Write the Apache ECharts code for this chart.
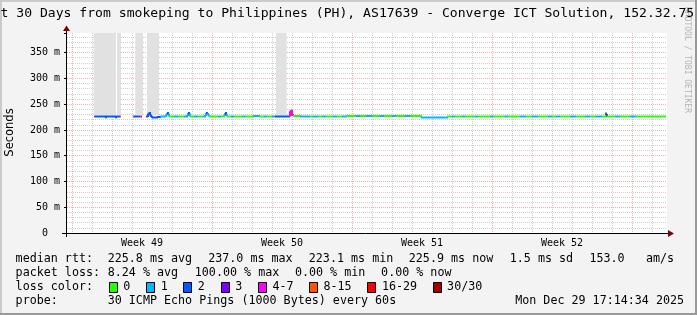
<!DOCTYPE html>
<html><head><meta charset="utf-8">
<script src="https://cdn.jsdelivr.net/npm/echarts@6/dist/echarts.min.js"></script>
<style>html,body{margin:0;padding:0;background:#f3f3f3}#c{width:697px;height:315px}</style>
</head><body><div id="c"></div>
<script>
// ---- data ----
const titleText = "t 30 Days from smokeping to Philippines (PH), AS17639 - Converge ICT Solution, 152.32.75";
const yAxisName = "Seconds";
const weekLabels = ["Week 49", "Week 50", "Week 51", "Week 52"];
const firstWeekBoundaryHour = 6;   // hours after window start
const windowHours = 720;           // 30 days
const yMax = 388;                  // ms

// median RTT steps: start hour, rtt (ms), lost pings of 30 (null = no data)
const stepHour = [32.4,33.6,45.6,46.8,57.6,58.8,63.6,64.8,79.2,80.4,87.6,88.8,90.0,94.8,96.0,97.2,98.4,99.6,100.8,102.0,108.0,111.6,117.6,118.8,120.0,121.2,122.4,128.4,133.2,140.4,144.0,145.2,146.4,147.6,152.4,157.2,163.2,165.6,166.8,168.0,169.2,170.4,181.2,184.8,188.4,189.6,190.8,192.0,196.8,200.4,210.0,213.6,223.2,230.4,236.4,240.0,246.0,249.6,250.8,266.4,267.6,268.8,270.0,271.2,279.6,291.6,295.2,301.2,306.0,310.8,319.2,324.0,330.0,334.8,346.8,351.6,358.8,366.0,375.6,380.4,390.0,394.8,405.6,411.6,424.8,456.0,462.0,465.6,474.0,477.6,489.6,493.2,507.6,511.2,525.6,529.2,543.6,550.8,558.0,565.2,577.2,582.0,586.8,591.6,603.6,610.8,621.6,627.6,633.6,642.0,646.8,648.0,657.6,663.6,675.6,682.8,718.8];
const stepRtt  = [226,226,224.5,226,224.5,226,226,null,226,226,226,226,null,226,227,232,233,228,225,224,225,226,227,230,233,230,226,226,226,226,229,233,230,226,226,226,226,229,233,231,228,226,226,226,229,233,229,226,226,226,226,226,227,226,226,226,226,226,226,228,236,237,229,227,226,226,226,226,226,226,226,226,226,227,227,227,227,227,227,227,227,227,227,227,224,226,226,226,226,226,226,226,226,226,226,226,226,226,226,226,226,226,226,226,226,226,226,226,226,226,229,226,226,226,226,226,null];
const stepLoss = [5,2,2,2,2,2,9,null,5,2,9,20,null,20,2,2,2,2,2,2,2,1,1,1,2,1,0,1,0,1,1,2,1,0,1,0,1,1,2,1,1,0,1,0,1,2,1,0,1,0,1,0,1,0,1,0,1,3,2,5,5,5,5,0,1,0,1,0,1,0,1,0,1,0,1,0,1,0,1,0,1,0,1,0,1,0,1,0,1,0,1,0,1,0,1,0,1,0,1,0,1,0,1,0,1,0,1,0,1,0,2,0,1,0,1,0,null];

// smoke (ping spread) regions: start hour, end hour, low ms, high ms
const smokeStart = [32.0, 60.0, 82.0, 96.0, 250.8];
const smokeEnd   = [58.8, 64.8, 91.2, 110.4, 263.6];
const smokeLow   = [228, 228, 228, 228, 228];
const smokeHigh  = [420, 420, 420, 420, 420];
// dark smoke spikes: hour, low, high
const spikeHour = [268.8, 646.8];
const spikeLow  = [227, 227];
const spikeHigh = [238, 234];

const lossLabels = ["0","1","2","3","4-7","8-15","16-29","30/30"];
const lossColors = ["#26ff00","#00b8ff","#0059ff","#7e00ff","#ff00ff","#ff5500","#ff0000","#a10000"];

const rttStats  = ["225.8 ms avg","237.0 ms max","223.1 ms min","225.9 ms now","1.5 ms sd","153.0","am/s"];
const lossStats = ["8.24 % avg","100.00 % max","0.00 % min","0.00 % now"];
const probeText = "30 ICMP Echo Pings (1000 Bytes) every 60s";
const dateText  = "Mon Dec 29 17:14:34 2025";
const sideText  = "RRDTOOL / TOBI OETIKER";

// ---- helpers ----
function lossClass(n){ if(n<=3) return n; if(n<=7) return 4; if(n<=15) return 5; if(n<=29) return 6; return 7; }
const MONO = '"DejaVu Sans Mono", monospace';

const medianData = [];
for (let i = 0; i < stepHour.length - 1; i++) {
  if (stepRtt[i] == null) continue;
  const vn = stepRtt[i+1] == null ? stepRtt[i] : stepRtt[i+1];
  medianData.push([stepHour[i], stepHour[i+1], stepRtt[i], vn, lossClass(stepLoss[i])]);
}
const smokeData = smokeStart.map((s,i)=>[s, smokeEnd[i], smokeLow[i], smokeHigh[i]]);
const spikeData = spikeHour.map((h,i)=>[h, spikeLow[i], spikeHigh[i]]);

const weekCenters = weekLabels.map((_,i)=>firstWeekBoundaryHour + 84 + 168*i);
const RED = 'rgba(235,110,110,0.55)', GRAY = '#cfcfcf', NONE = 'rgba(0,0,0,0)';
const xColors = [];
for (let k = 0; k < 28; k++) {
  const h = k*6 - firstWeekBoundaryHour;
  if (((h % 168) + 168) % 168 === 0) xColors.push(RED);
  else if (((h % 24) + 24) % 24 === 0) xColors.push(GRAY);
  else xColors.push(NONE);
}
const yColors = [RED, GRAY, GRAY, GRAY, GRAY];

function clipRect(r, cs){ return echarts.graphic.clipRectByRect(r, {x:cs.x,y:cs.y,width:cs.width,height:cs.height}); }

const chart = echarts.init(document.getElementById('c'), null, {renderer:'canvas'});

const graphics = [];
graphics.push({type:'rect', shape:{x:0,y:0,width:697,height:2}, style:{fill:'#cbcbcb'}, silent:true});
graphics.push({type:'rect', shape:{x:0,y:0,width:2,height:315}, style:{fill:'#cbcbcb'}, silent:true});
graphics.push({type:'rect', shape:{x:0,y:313,width:697,height:2}, style:{fill:'#999999'}, silent:true, z:30});
graphics.push({type:'rect', shape:{x:695,y:0,width:2,height:315}, style:{fill:'#999999'}, silent:true, z:30});
graphics.push({type:'text', x:0.5, y:13.5, style:{text:titleText, font:'13.1px '+MONO, fill:'#000', textAlign:'left', textVerticalAlign:'middle'}, z:10});
graphics.push({type:'text', x:687.5, y:60, rotation:-Math.PI/2, style:{text:sideText, font:'8px '+MONO, fill:'#b4b4b4', textAlign:'center', textVerticalAlign:'middle'}, z:5});
graphics.push({type:'text', x:10.5, y:132.5, rotation:Math.PI/2, style:{text:yAxisName, font:'11.5px "DejaVu Sans", sans-serif', fill:'#000', textAlign:'center', textVerticalAlign:'middle'}, z:10});
graphics.push({type:'line', shape:{x1:66.5,y1:237,x2:66.5,y2:30}, style:{stroke:'#000',lineWidth:1}, z:20});
graphics.push({type:'line', shape:{x1:62,y1:233.5,x2:669,y2:233.5}, style:{stroke:'#000',lineWidth:1}, z:20});
graphics.push({type:'polygon', shape:{points:[[66.5,25.5],[63,31],[70,31]]}, style:{fill:'#7f0000'}, z:21});
graphics.push({type:'polygon', shape:{points:[[674,233.5],[668,230],[668,237]]}, style:{fill:'#7f0000'}, z:21});

const legFont = '11.7px '+MONO;
function legText(x, y, t){ graphics.push({type:'text', x:x, y:y, style:{text:t, font:legFont, fill:'#000', textAlign:'left', textVerticalAlign:'middle'}, z:10}); }
const r1 = 259, r2 = 273, r3 = 287, r4 = 301;
legText(15.6, r1, 'median rtt:');
[107.7, 208.2, 308.8, 408.8, 509.8, 589.4, 646].forEach((x,i)=>legText(x, r1, rttStats[i]));
legText(15.6, r2, 'packet loss:');
[107.7, 194.8, 294.9, 381.1].forEach((x,i)=>legText(x, r2, lossStats[i]));
legText(15.6, r3, 'loss color:');
[108.6, 146.1, 183.2, 220.7, 257.8, 308.8, 367.3, 432.5].forEach((x,i)=>{
  graphics.push({type:'rect', shape:{x:Math.round(x)+0.5, y:282.5, width:8, height:10}, style:{fill:lossColors[i], stroke:'#000', lineWidth:1}, z:10});
  legText(x+14.6, r3, lossLabels[i]);
});
legText(15.6, r4, 'probe:');
legText(107.7, r4, probeText);
legText(515.2, r4, dateText);

chart.setOption({
  animation:false,
  backgroundColor:'#f3f3f3',
  grid:{left:67, top:33, width:600, height:200, show:true, backgroundColor:'#ffffff', borderWidth:0},
  xAxis:{type:'value', min:0, max:windowHours, interval:6,
    axisLine:{show:false}, axisTick:{show:false},
    axisLabel:{margin:5, fontFamily:MONO, fontSize:10, color:'#000',
      formatter:(v)=>{ const i = weekCenters.indexOf(Math.round(v)); return i>=0 ? weekLabels[i] : ''; }},
    splitLine:{show:true, lineStyle:{color:xColors, width:1, type:[1,1]}}},
  yAxis:[
    {type:'value', min:0, max:yMax, interval:10,
      axisLine:{show:false}, axisTick:{show:false},
      axisLabel:{margin:7, fontFamily:MONO, fontSize:10, color:'#000',
        formatter:(v)=> (v % 50 === 0) ? (v === 0 ? '0  ' : v + ' m') : ''},
      splitLine:{show:true, showMaxLine:false, lineStyle:{color:yColors, width:1, type:[1,1]}}},
    {type:'value', min:0, max:yMax, interval:50, position:'left', offset:0,
      axisLine:{show:false}, axisLabel:{show:false}, splitLine:{show:false},
      axisTick:{show:true, length:3, lineStyle:{color:'#000', width:1}}}
  ],
  graphic:graphics,
  series:[
    {type:'custom', name:'smoke', data:smokeData, z:2, silent:true,
      encode:{x:[0,1], y:[2,3]},
      renderItem:(params, api)=>{
        const p0 = api.coord([api.value(0), api.value(3)]);
        const p1 = api.coord([api.value(1), api.value(2)]);
        const r = clipRect({x:p0[0], y:p0[1], width:p1[0]-p0[0], height:p1[1]-p0[1]}, params.coordSys);
        return r ? {type:'rect', shape:r, style:{fill:'#e1e1e1'}} : null;
      }},
    {type:'custom', name:'spikes', data:spikeData, z:3, silent:true,
      encode:{x:0, y:[1,2]},
      renderItem:(params, api)=>{
        const a = api.coord([api.value(0), api.value(1)]);
        const b = api.coord([api.value(0), api.value(2)]);
        return {type:'line', shape:{x1:a[0], y1:a[1], x2:b[0], y2:b[1]}, style:{stroke:'#222', lineWidth:1.5}};
      }},
    {type:'custom', name:'median', data:medianData, z:4, silent:true,
      encode:{x:[0,1], y:[2,3]},
      renderItem:(params, api)=>{
        const t0 = api.value(0), t1 = api.value(1), v = api.value(2), vn = api.value(3), c = api.value(4);
        const pts = [api.coord([t0, v]), api.coord([t1, v])];
        if (vn !== v) pts.push(api.coord([t1, vn]));
        return {type:'polyline', shape:{points:pts}, style:{stroke:lossColors[c], lineWidth:2, fill:null, lineCap:'butt', lineJoin:'miter'}};
      }}
  ]
});
</script></body></html>
